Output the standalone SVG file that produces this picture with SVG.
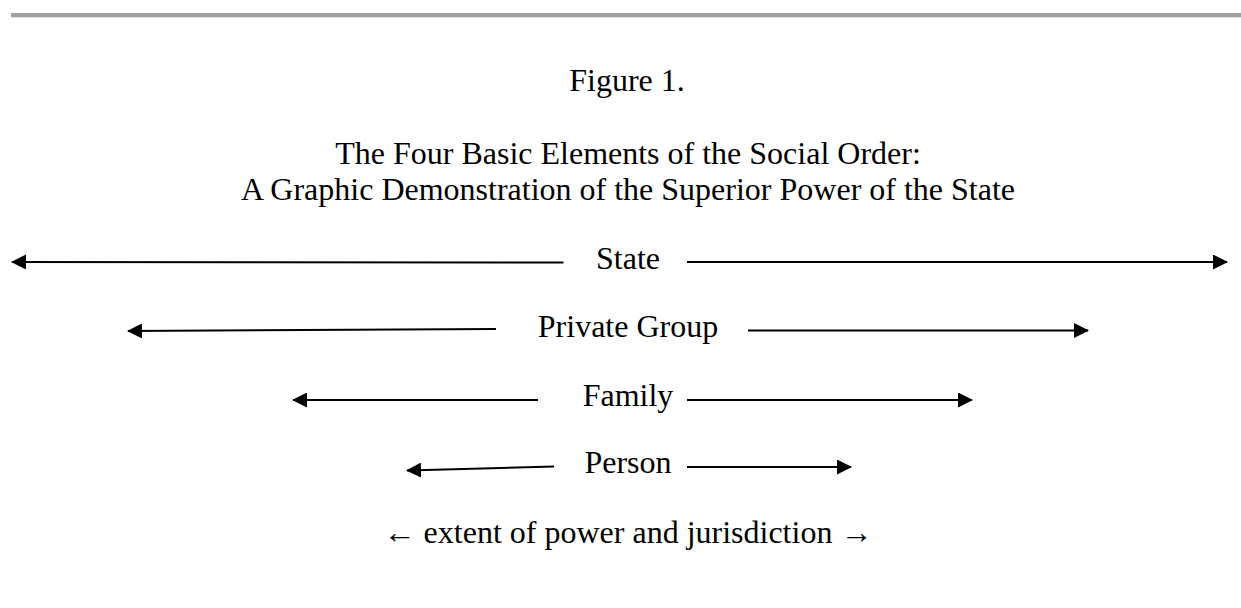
<svg xmlns="http://www.w3.org/2000/svg" width="1241" height="608" viewBox="0 0 1241 608">
  <defs>
    <style>
      .t { font-family: "Liberation Serif", "Times New Roman", serif; font-size: 32px; fill: #000; text-anchor: middle; }
      .arr { stroke: #000; stroke-width: 2; fill: none; marker-end: url(#head); }
    </style>
    <marker id="head" viewBox="0 0 15 15" refX="14" refY="7.5" markerWidth="15" markerHeight="15" markerUnits="userSpaceOnUse" orient="auto">
      <path d="M0,0 L15,7.5 L0,15 Z" fill="#000"/>
    </marker>
  </defs>
  <rect x="0" y="0" width="1241" height="608" fill="#fff"/>
  <rect x="11" y="13" width="1230" height="4" fill="#a0a0a0"/>
  <rect x="11" y="17" width="1230" height="1" fill="#e3e3e3"/>

  <g id="title">
    <text class="t" x="627" y="91">Figure 1.</text>
    <text class="t" x="628" y="164">The Four Basic Elements of the Social Order:</text>
    <text class="t" x="628" y="200">A Graphic Demonstration of the Superior Power of the State</text>
  </g>

  <g id="state"><text class="t" x="628" y="269">State</text></g>
  <g id="private-group"><text class="t" x="628" y="337">Private Group</text></g>
  <g id="family"><text class="t" x="628" y="406">Family</text></g>
  <g id="person"><text class="t" x="628" y="473">Person</text></g>
  <g id="legend"><text class="t" x="628" y="543">← extent of power and jurisdiction →</text></g>

  <g id="connectors">
    <line class="arr" x1="563.5" y1="262.5" x2="12" y2="262"/>
    <line class="arr" x1="687" y1="262" x2="1227" y2="262"/>
    <line class="arr" x1="496" y1="329" x2="128" y2="331"/>
    <line class="arr" x1="748" y1="330.5" x2="1088" y2="330.5"/>
    <line class="arr" x1="538" y1="400" x2="293" y2="400"/>
    <line class="arr" x1="687" y1="400" x2="972" y2="400"/>
    <line class="arr" x1="554" y1="466.5" x2="407" y2="470.5"/>
    <line class="arr" x1="687" y1="467" x2="851" y2="467"/>
  </g>
</svg>
